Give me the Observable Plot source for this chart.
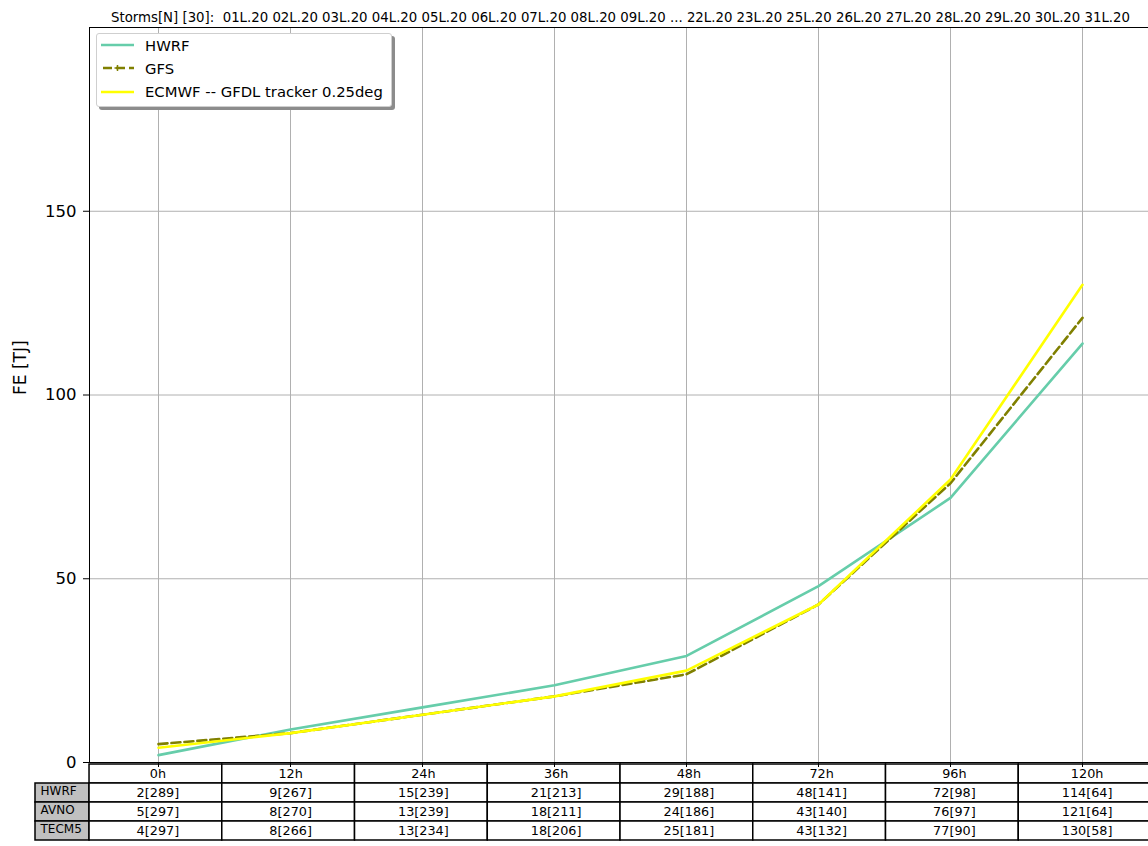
<!DOCTYPE html>
<html>
<head>
<meta charset="utf-8">
<script src="https://cdn.jsdelivr.net/npm/d3@7"></script>
<script src="https://cdn.jsdelivr.net/npm/@observablehq/plot@0.6"></script>
<style>
  html, body { margin: 0; padding: 0; background: #fff; overflow: hidden; }
  #wrap { position: relative; width: 1148px; height: 846px; overflow: hidden; font-family: "DejaVu Sans", sans-serif; }
  #wrap > svg { position: absolute; left: 0; top: 0; max-width: none !important; }
  #legend { position: absolute; left: 96px; top: 33px; width: 294px; height: 72px; background: #fff;
            border: 1px solid #cfcfcf; border-radius: 3px; box-shadow: 3px 3px 0 #8c8c8c; font-size: 14.8px; color: #000; }
  #legend .row { position: absolute; left: 0; height: 20px; display: flex; align-items: center; }
  #legend svg { position: static; margin-left: 4px; }
  #legend span { margin-left: 10px; white-space: nowrap; }
</style>
</head>
<body>
<div id="wrap"></div>
<script>
// ---- data ----
const leadTimes = ["0h", "12h", "24h", "36h", "48h", "72h", "96h", "120h"];
const hwrf  = [2, 9, 15, 21, 29, 48, 72, 114];
const gfs   = [5, 8, 13, 18, 24, 43, 76, 121];
const ecmwf = [4, 8, 13, 18, 25, 43, 77, 130];
const hwrfN  = [289, 267, 239, 213, 188, 141, 98, 64];
const gfsN   = [297, 270, 239, 211, 186, 140, 97, 64];
const ecmwfN = [297, 266, 234, 206, 181, 132, 90, 58];
const seriesNames = ["HWRF", "GFS", "ECMWF -- GFDL tracker 0.25deg"];
const tableRowNames = ["HWRF", "AVNO", "TECM5"];
const yTicks = [0, 50, 100, 150];
const yLabel = "FE [TJ]";
const storms = "Storms[N] [30]:  01L.20 02L.20 03L.20 04L.20 05L.20 06L.20 07L.20 08L.20 09L.20 ... 22L.20 23L.20 25L.20 26L.20 27L.20 28L.20 29L.20 30L.20 31L.20";

const colors = {HWRF: "#66cdaa", GFS: "#808000", ECMWF: "#ffff00"};

const mk = (vals, name) => leadTimes.map((t, i) => ({t, v: vals[i], name}));
const dHWRF = mk(hwrf, "HWRF"), dGFS = mk(gfs, "GFS"), dECMWF = mk(ecmwf, "ECMWF");

const W = 1151, H = 846;
const FONT = "DejaVu Sans, sans-serif";

// ---- table (drawn underneath) ----
const tableVals = [hwrf, gfs, ecmwf];
const tableNs = [hwrfN, gfsN, ecmwfN];
const cells = [];
leadTimes.forEach((t, i) => cells.push({row: "head", c: i, label: t}));
tableRowNames.forEach((r, k) => leadTimes.forEach((t, i) =>
  cells.push({row: r, c: i, label: `${tableVals[k][i]}[${tableNs[k][i]}]`})));
const rowLabels = tableRowNames.map(r => ({row: r}));

const table = Plot.plot({
  width: W, height: H,
  marginLeft: 0, marginRight: 0, marginTop: 0, marginBottom: 0,
  style: {background: "transparent", overflow: "visible", fontFamily: FONT, maxWidth: "none"},
  x: {type: "linear", domain: [-0.407, 8], range: [35, 1151], axis: null},
  y: {type: "band", domain: ["head", ...tableRowNames], range: [762, 841], padding: 0, axis: null},
  marks: [
    Plot.rect(rowLabels, {x1: () => -0.407, x2: () => 0, y: "row", fill: "#c0c0c0", stroke: "#000", strokeWidth: 1.5}),
    Plot.rect(cells, {x1: "c", x2: d => d.c + 1, y: "row", fill: "#fff", stroke: "#000", strokeWidth: 1.5}),
    Plot.text(cells, {x: d => d.c + 0.5, y: "row", text: "label", fontSize: 12.8, fill: "#000", dx: 2, dy: 0}),
    Plot.text(rowLabels, {x: () => -0.407, y: "row", text: "row", fontSize: 12, fill: "#000", textAnchor: "start", dx: 5, dy: -2})
  ]
});

// ---- chart (drawn on top) ----
const lineW = 2.6;
const chart = Plot.plot({
  width: W, height: H,
  marginLeft: 89, marginRight: 0, marginTop: 27, marginBottom: 84,
  style: {background: "transparent", overflow: "visible", fontFamily: FONT, maxWidth: "none"},
  x: {type: "point", domain: leadTimes, range: [89, 1151], padding: 0.5},
  y: {domain: [0, 200]},
  marks: [
    Plot.gridX(leadTimes, {stroke: "#b0b0b0", strokeOpacity: 1, strokeWidth: 1}),
    Plot.gridY(yTicks, {stroke: "#b0b0b0", strokeOpacity: 1, strokeWidth: 1}),
    Plot.axisY({ticks: yTicks, tickSize: 6, tickPadding: 7, fontSize: 16.5, stroke: "#000", label: null}),
    Plot.text([yLabel], {frameAnchor: "left", rotate: -90, dx: -69, fontSize: 17, fill: "#000"}),
    Plot.axisX({ticks: leadTimes, tickSize: 5, tickFormat: () => "", label: null, stroke: "#000"}),
    Plot.frame({stroke: "#000", strokeWidth: 1}),
    Plot.line(dHWRF, {x: "t", y: "v", stroke: colors.HWRF, strokeWidth: lineW}),
    Plot.dot(dHWRF, {x: "t", y: "v", symbol: "plus", r: 3.5, fill: colors.HWRF, stroke: "none"}),
    Plot.line(dGFS, {x: "t", y: "v", stroke: colors.GFS, strokeWidth: lineW, strokeDasharray: "9,4"}),
    Plot.dot(dGFS, {x: "t", y: "v", symbol: "plus", r: 3.5, fill: colors.GFS, stroke: "none"}),
    Plot.line(dECMWF, {x: "t", y: "v", stroke: colors.ECMWF, strokeWidth: lineW}),
    Plot.dot(dECMWF, {x: "t", y: "v", symbol: "plus", r: 3.5, fill: colors.ECMWF, stroke: "none"}),
    Plot.text([storms], {frameAnchor: "top", dy: -15, fontSize: 13.3, fill: "#000"})
  ]
});

const wrap = document.getElementById("wrap");
wrap.appendChild(table);
wrap.appendChild(chart);

// ---- legend ----
const legend = document.createElement("div");
legend.id = "legend";
const entries = [
  {name: seriesNames[0], color: colors.HWRF, dash: null, marker: false},
  {name: seriesNames[1], color: colors.GFS, dash: "9,4", marker: true},
  {name: seriesNames[2], color: colors.ECMWF, dash: null, marker: false}
];
entries.forEach((e, i) => {
  const row = document.createElement("div");
  row.className = "row";
  row.style.top = (1 + i * 23.3) + "px";
  const ns = "http://www.w3.org/2000/svg";
  const s = document.createElementNS(ns, "svg");
  s.setAttribute("width", 34); s.setAttribute("height", 20);
  const l = document.createElementNS(ns, "line");
  l.setAttribute("x1", 0); l.setAttribute("x2", 33); l.setAttribute("y1", 10); l.setAttribute("y2", 10);
  l.setAttribute("stroke", e.color); l.setAttribute("stroke-width", 2.6);
  if (e.dash) { l.setAttribute("stroke-dasharray", e.dash); l.setAttribute("stroke-dashoffset", "-2"); }
  s.appendChild(l);
  if (e.marker) {
    const p = document.createElementNS(ns, "path");
    p.setAttribute("d", "M13.5,10H19.5M16.5,7V13");
    p.setAttribute("stroke", e.color); p.setAttribute("stroke-width", 1.5);
    s.appendChild(p);
  }
  row.appendChild(s);
  const sp = document.createElement("span");
  sp.textContent = e.name;
  row.appendChild(sp);
  legend.appendChild(row);
});
wrap.appendChild(legend);
</script>
</body>
</html>
